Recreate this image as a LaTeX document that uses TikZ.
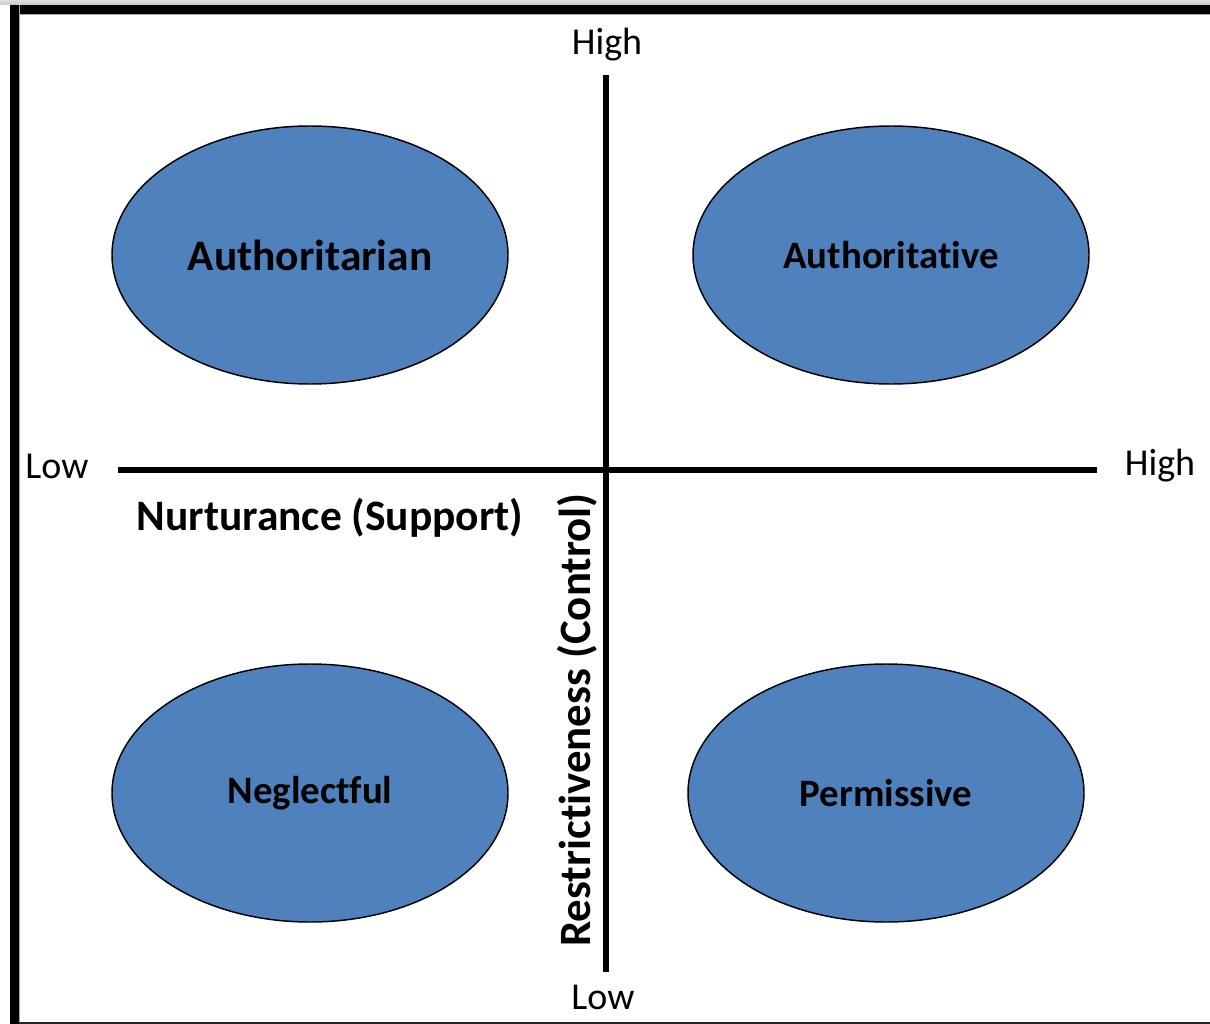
\documentclass[tikz,border=0pt]{standalone}
\usepackage{fontspec}
\setmainfont{Carlito}[Ligatures={NoCommon,NoRequired,NoContextual}]
\usetikzlibrary{shapes.geometric}
\definecolor{stylefill}{HTML}{4F81BD}
\begin{document}
\begin{tikzpicture}[x=0.75pt,y=-0.75pt,
  style/.style={ellipse,draw=black,line width=1.1pt,fill=stylefill,
    minimum width=396*0.75pt,minimum height=258*0.75pt,inner sep=0pt,
    font=\bfseries\fontsize{29.1}{32}\selectfont},
  axis/.style={line width=3.9pt},
  endlabel/.style={font=\fontsize{28.5}{32}\selectfont,inner sep=0pt},
  axislabel/.style={font=\bfseries\fontsize{32.6}{36}\selectfont,inner sep=0pt}]
% page and frame
\useasboundingbox (0,0) rectangle (1210,1024);
\fill[white] (0,0) rectangle (1210,1024);
\shade[top color=gray!25,bottom color=gray!45] (0,0) rectangle (1210,5);
\fill[gray!70] (10,5) rectangle (1210,15.5);
\fill[black] (10,5) rectangle (1210,14);
\fill[gray!70] (10,5) rectangle (20,1024);
\fill[black] (10,5) rectangle (19,1024);
\fill[black!85] (19,1021.5) rectangle (1210,1024);
% axes
\coordinate (vtop) at (606,75);
\coordinate (vbot) at (606,972);
\coordinate (hleft) at (118,470);
\coordinate (hright) at (1097,470);
\draw[axis] (vtop) -- (vbot);
\draw[axis] (hleft) -- (hright);
% axis end labels
\node[endlabel] (ctrlhigh) at (607,45) {High};
\node[endlabel] (ctrllow) at (603,997) {Low};
\node[endlabel] (suplow) at (57,466) {Low};
\node[endlabel] (suphigh) at (1160,466) {High};
% axis names
\node[axislabel] (support) at (330,518) {Nurturance (Support)};
\node[axislabel,rotate=90,font=\bfseries\fontsize{33.6}{36}\selectfont] (control) at (577,720) {Restrictiveness (Control)};
% parenting styles
\node[style,font=\bfseries\fontsize{32.6}{36}\selectfont] (authoritarian) at (310,255) {Authoritarian};
\node[style] (authoritative) at (891,255) {Authoritative};
\node[style] (neglectful) at (310,793) {Neglectful};
\node[style] (permissive) at (886,793) {Permissive};
\end{tikzpicture}
\end{document}
